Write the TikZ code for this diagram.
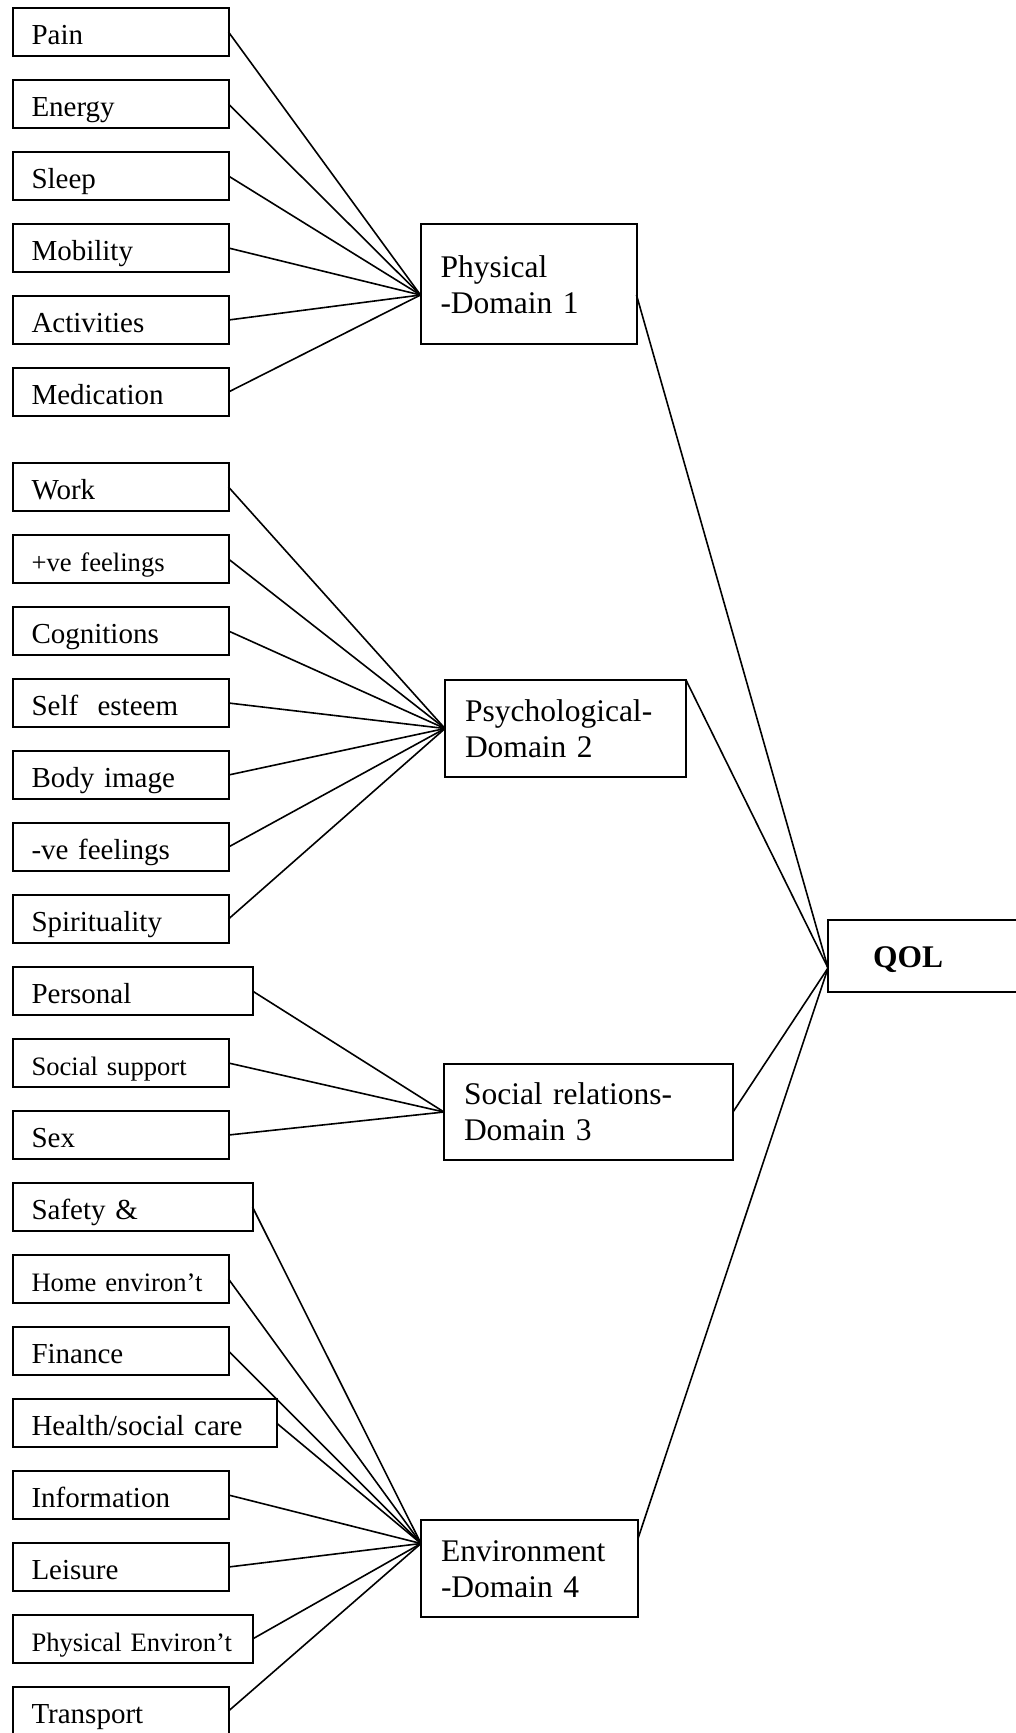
\documentclass[tikz,border=0pt]{standalone}
\usepackage{fontspec}
\setmainfont{Liberation Serif}
\usetikzlibrary{positioning}
\tikzset{
  box/.style       = {draw,line width=2pt,inner ysep=0pt,outer sep=0pt,align=left,
                      anchor=north west},
  leaf/.style      = {box,inner xsep=19pt,text width=#1-38pt,text height=36pt,
                      text depth=12pt,font=\fontsize{29}{34}\selectfont},
  leaf/.default    = 216pt,
  smallleaf/.style = {leaf=#1,font=\fontsize{26.6}{31}\selectfont},
  smallleaf/.default = 216pt,
  dombox/.style    = {box,inner xsep=20pt,font=\fontsize{31.5}{36}\selectfont},
  conn/.style      = {line width=1.6pt},
}

\begin{document}
\begin{tikzpicture}[x=1pt,y=-1pt,node distance=24pt]
  \useasboundingbox (0,0) rectangle (1016,1733);
  \clip (0,0) rectangle (1016,1733);

  % Physical facets
  \node[leaf] (pain) at (12.5,8) {Pain};
  \node[leaf,below=of pain.south west,anchor=north west] (energy) {Energy};
  \node[leaf,below=of energy.south west,anchor=north west] (sleep) {Sleep};
  \node[leaf,below=of sleep.south west,anchor=north west] (mob) {Mobility};
  \node[leaf,below=of mob.south west,anchor=north west] (act) {Activities};
  \node[leaf,below=of act.south west,anchor=north west] (med) {Medication};

  % Psychological facets
  \node[leaf,below=47pt of med.south west,anchor=north west] (work) {Work};
  \node[smallleaf,below=of work.south west,anchor=north west] (posfeel) {+ve feelings};
  \node[leaf,below=of posfeel.south west,anchor=north west] (cogn) {Cognitions};
  \node[leaf,below=of cogn.south west,anchor=north west] (selfest) {Self\ \ esteem};
  \node[leaf,below=of selfest.south west,anchor=north west] (body) {Body image};
  \node[leaf,below=of body.south west,anchor=north west] (negfeel) {-ve feelings};
  \node[leaf,below=of negfeel.south west,anchor=north west] (spirit) {Spirituality};

  % Social facets
  \node[leaf=240pt,below=of spirit.south west,anchor=north west] (pers) {Personal};
  \node[smallleaf,below=of pers.south west,anchor=north west] (socsup) {Social support};
  \node[leaf,below=of socsup.south west,anchor=north west] (sex) {Sex};

  % Environment facets
  \node[leaf=240pt,below=of sex.south west,anchor=north west] (safety) {Safety \&};
  \node[smallleaf,below=of safety.south west,anchor=north west] (home) {Home environ’t};
  \node[leaf,below=of home.south west,anchor=north west] (fin) {Finance};
  \node[leaf=264pt,below=of fin.south west,anchor=north west] (health) {Health/social care};
  \node[leaf,below=of health.south west,anchor=north west] (info) {Information};
  \node[leaf,below=of info.south west,anchor=north west] (leis) {Leisure};
  \node[smallleaf=240pt,below=of leis.south west,anchor=north west] (physenv) {Physical Environ’t};
  \node[leaf,below=of physenv.south west,anchor=north west] (transp) {Transport};

  % Domains
  \node[dombox,text width=176pt,text height=53pt,text depth=67pt] (phys) at (420.5,224)
       {Physical\\-Domain 1};
  \node[dombox,text width=201pt,text height=41pt,text depth=56pt] (psy) at (445,680)
       {Psychological-\\Domain 2};
  \node[dombox,text width=249pt,text height=40pt,text depth=56pt] (soc) at (444,1064)
       {Social relations-\\Domain 3};
  \node[dombox,text width=177pt,text height=41pt,text depth=56pt] (env) at (421,1520)
       {Environment\\-Domain 4};
  \node[dombox,inner xsep=45pt,text width=200pt,text height=47pt,text depth=25pt,
        font=\fontsize{31.5}{36}\selectfont\bfseries] (qol) at (828,920) {QOL};

  \coordinate (physin)  at ([yshift=-11pt]phys.west);
  \coordinate (physout) at ([yshift=-11pt]phys.east);
  \coordinate (envin)   at ([yshift=25pt]env.west);
  \coordinate (envout)  at ([yshift=30pt]env.east);
  \coordinate (qolin)   at ([yshift=-12pt]qol.west);

  \foreach \n in {pain,energy,sleep,mob,act,med}
     \draw[conn] (\n.east) -- (physin);
  \foreach \n in {work,posfeel,cogn,selfest,body,negfeel,spirit}
     \draw[conn] (\n.east) -- (psy.west);
  \foreach \n in {pers,socsup,sex}
     \draw[conn] (\n.east) -- (soc.west);
  \foreach \n in {safety,home,fin,health,info,leis,physenv,transp}
     \draw[conn] (\n.east) -- (envin);

  % Domains into QOL
  \draw[conn] (physout) -- (qolin);
  \draw[conn] (psy.north east) -- (qolin);
  \draw[conn] (soc.east) -- (qolin);
  \draw[conn] (envout) -- (qolin);
\end{tikzpicture}
\end{document}
